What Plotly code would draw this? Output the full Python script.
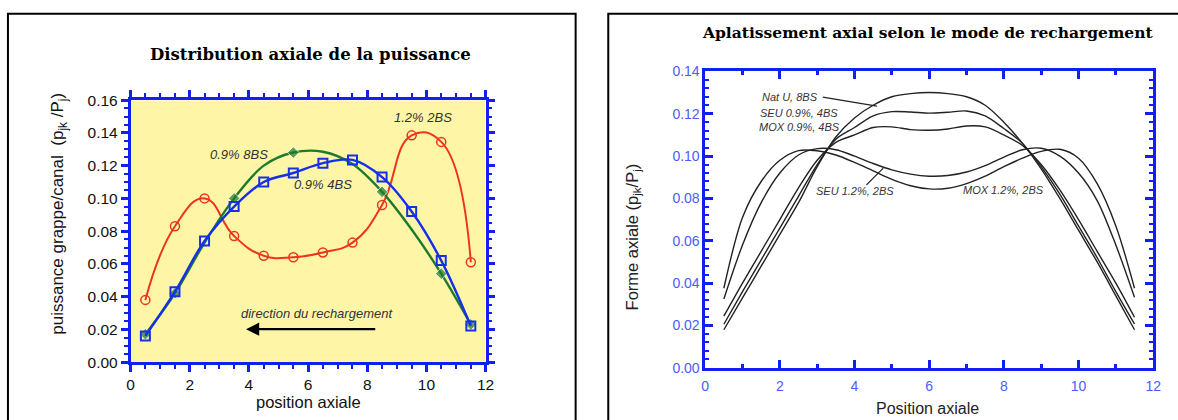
import plotly.graph_objects as go

W, H = 1178, 420

# ---------------- Left chart data ----------------
pos_left = [0.5, 1.5, 2.5, 3.5, 4.5, 5.5, 6.5, 7.5, 8.5, 9.5, 10.5, 11.5]
red_12_2bs = [0.038, 0.083, 0.100, 0.077, 0.065, 0.064, 0.067, 0.073, 0.096, 0.1385, 0.1345, 0.061]
green_09_8bs = [0.017, 0.042, 0.073, 0.100, 0.120, 0.128, 0.1285, 0.121, 0.104, 0.081, 0.054, 0.023]
blue_09_4bs = [0.016, 0.043, 0.074, 0.095, 0.110, 0.1155, 0.1215, 0.1235, 0.113, 0.092, 0.062, 0.022]
green_marker_shown = [1, 1, 0, 1, 0, 1, 0, 0, 1, 0, 1, 1]

# ---------------- Right chart data ----------------
pos_right = [0.5, 1.0, 1.5, 2.0, 2.5, 3.0, 3.5, 4.0, 4.5, 5.0, 5.5, 6.0,
             6.5, 7.0, 7.5, 8.0, 8.5, 9.0, 9.5, 10.0, 10.5, 11.0, 11.5]
natu_8bs = [0.018, 0.033, 0.048, 0.063, 0.078, 0.095, 0.109, 0.118, 0.124, 0.128, 0.1295, 0.130,
            0.1295, 0.128, 0.124, 0.116, 0.106, 0.094, 0.080, 0.065, 0.050, 0.034, 0.018]
seu09_4bs = [0.0206, 0.036, 0.051, 0.066, 0.081, 0.096, 0.108, 0.1135, 0.119, 0.121, 0.1208, 0.1203,
             0.1207, 0.1213, 0.119, 0.113, 0.106, 0.095, 0.082, 0.067, 0.052, 0.036, 0.0207]
mox09_4bs = [0.0244, 0.040, 0.055, 0.070, 0.085, 0.098, 0.1065, 0.110, 0.1135, 0.1138, 0.1125, 0.1122,
             0.1128, 0.1142, 0.1138, 0.110, 0.105, 0.096, 0.084, 0.070, 0.055, 0.040, 0.0239]
mox12_2bs = [0.0376, 0.071, 0.088, 0.098, 0.1026, 0.1025, 0.1005, 0.097, 0.093, 0.089, 0.086, 0.0845,
             0.0848, 0.087, 0.0905, 0.095, 0.099, 0.1022, 0.1032, 0.099, 0.087, 0.067, 0.0376]
seu12_2bs = [0.0325, 0.058, 0.078, 0.092, 0.1005, 0.1035, 0.1030, 0.100, 0.0965, 0.0935, 0.0915, 0.0905,
             0.0908, 0.0925, 0.0955, 0.0995, 0.1030, 0.1037, 0.100, 0.092, 0.079, 0.058, 0.0333]

# ---------------- Layout geometry (pixels) ----------------
L_x0, L_x1, L_y0, L_y1 = 128, 487, 95, 368   # left plot area (left, right, top, bottom)
R_x0, R_x1, R_y0, R_y1 = 709, 1162, 65, 374  # right plot area

def px(x):
    return x / W

def py(y):
    return 1 - y / H

RED = "#EE3322"
GREEN = "#1E7B2E"
BLUE = "#1530E8"
AXBLUE = "#1020F0"
LBLUE = "#4A5CFF"

fig = go.Figure()

# Left traces
fig.add_trace(go.Scatter(x=pos_left, y=red_12_2bs, mode="lines+markers", xaxis="x", yaxis="y",
                         line=dict(color=RED, width=2, shape="spline", smoothing=1.3),
                         marker=dict(symbol="circle-open", size=9, color=RED, line=dict(width=1.5)),
                         showlegend=False))
fig.add_trace(go.Scatter(x=pos_left, y=green_09_8bs, mode="lines+markers", xaxis="x", yaxis="y",
                         line=dict(color=GREEN, width=2.4, shape="spline", smoothing=1.0),
                         marker=dict(symbol="diamond", size=[9 * s for s in green_marker_shown], color=GREEN),
                         showlegend=False))
fig.add_trace(go.Scatter(x=pos_left, y=blue_09_4bs, mode="lines+markers", xaxis="x", yaxis="y",
                         line=dict(color=BLUE, width=2.4, shape="spline", smoothing=1.0),
                         marker=dict(symbol="square-open", size=9, color=BLUE, line=dict(width=2)),
                         showlegend=False))

# Right traces
for series in [natu_8bs, seu09_4bs, mox09_4bs, mox12_2bs, seu12_2bs]:
    fig.add_trace(go.Scatter(x=pos_right, y=series, mode="lines", xaxis="x2", yaxis="y2",
                             line=dict(color="#222222", width=1.4, shape="spline", smoothing=0.9),
                             showlegend=False))

tickfont_left = dict(family="Liberation Sans, Arial", size=15.5, color="#111111")
tickfont_right = dict(family="Liberation Sans, Arial", size=14, color=LBLUE)

common_left = dict(showline=True, linecolor=AXBLUE, linewidth=2.5, mirror="allticks",
                   ticks="outside", tickcolor=AXBLUE, tickwidth=2.5, ticklen=7,
                   showgrid=False, zeroline=False, tickfont=tickfont_left)
common_right = dict(showline=True, linecolor=AXBLUE, linewidth=2.5, mirror="allticks",
                    ticks="inside", tickcolor=AXBLUE, tickwidth=2.5, ticklen=8,
                    showgrid=False, zeroline=False, tickfont=tickfont_right)

fig.update_layout(
    width=W, height=H, margin=dict(l=0, r=0, t=0, b=0),
    paper_bgcolor="white", plot_bgcolor="rgba(0,0,0,0)",
    xaxis=dict(domain=[px(L_x0), px(L_x1)], range=[0, 12], dtick=2, tick0=0,
               minor=dict(dtick=0.5, ticks="outside", ticklen=4, tickcolor=AXBLUE, tickwidth=2),
               anchor="y", **common_left),
    yaxis=dict(domain=[py(L_y1), py(L_y0)], range=[0, 0.16], dtick=0.02, tick0=0, tickformat=".2f",
               minor=dict(dtick=0.005, ticks="outside", ticklen=4, tickcolor=AXBLUE, tickwidth=2),
               anchor="x", **common_left),
    xaxis2=dict(domain=[px(R_x0), px(R_x1)], range=[0, 12], dtick=2, tick0=0,
                minor=dict(dtick=1, ticks="inside", ticklen=4, tickcolor=AXBLUE, tickwidth=2.5),
                anchor="y2", ticklabelstandoff=4, **common_right),
    yaxis2=dict(domain=[py(R_y1), py(R_y0)], range=[0, 0.14], dtick=0.02, tick0=0, tickformat=".2f",
                minor=dict(dtick=0.004, ticks="inside", ticklen=4, tickcolor=AXBLUE, tickwidth=2),
                anchor="x2", **common_right),
)

shapes = [
    # yellow background of left plot
    dict(type="rect", xref="x", yref="y", x0=0, x1=12, y0=0, y1=0.16,
         fillcolor="#FEF6A6", line=dict(width=0), layer="below"),
    # frames
    dict(type="rect", xref="paper", yref="paper", x0=px(4), x1=px(578), y0=py(440), y1=py(5),
         line=dict(color="black", width=2), fillcolor="rgba(0,0,0,0)", layer="below"),
    dict(type="rect", xref="paper", yref="paper", x0=px(611), x1=px(1200), y0=py(440), y1=py(5),
         line=dict(color="black", width=2), fillcolor="rgba(0,0,0,0)", layer="below"),
    # pointer lines on right chart
    dict(type="line", xref="x2", yref="y2", x0=3.15, y0=0.1278, x1=4.6, y1=0.1236,
         line=dict(color="#222222", width=1.3)),
    dict(type="line", xref="x2", yref="y2", x0=4.32, y0=0.0864, x1=4.77, y1=0.0943,
         line=dict(color="#222222", width=1.3)),
]
fig.update_layout(shapes=shapes)

ann = []
it_left = dict(family="Liberation Sans, Arial", size=13, color="#333333")
it_right = dict(family="Liberation Sans, Arial", size=11, color="#333333")

def label(text, x, y, xref, yref, font):
    ann.append(dict(text="<i>" + text + "</i>", x=x, y=y, xref=xref, yref=yref,
                    showarrow=False, font=font, xanchor="center", yanchor="middle"))

label("1.2% 2BS", 9.9, 0.1497, "x", "y", it_left)
label("0.9% 8BS", 3.65, 0.127, "x", "y", it_left)
label("0.9% 4BS", 6.5, 0.1087, "x", "y", it_left)
label("direction du rechargement", 6.29, 0.0298, "x", "y", it_left)

label("Nat U, 8BS", 2.26, 0.1279, "x2", "y2", it_right)
label("SEU 0.9%, 4BS", 2.52, 0.1204, "x2", "y2", it_right)
label("MOX 0.9%, 4BS", 2.52, 0.1138, "x2", "y2", it_right)
label("SEU 1.2%, 2BS", 4.01, 0.0836, "x2", "y2", it_right)
label("MOX 1.2%, 2BS", 7.98, 0.0841, "x2", "y2", it_right)

# arrow "direction du rechargement"
ann.append(dict(x=3.9, y=0.0201, ax=8.32, ay=0.0201, xref="x", yref="y", axref="x", ayref="y",
                text="", showarrow=True, arrowhead=2, arrowsize=1.2, arrowwidth=2.2, arrowcolor="black"))

def ptext(text, x, y, font, angle=0):
    ann.append(dict(text=text, x=px(x), y=py(y), xref="paper", yref="paper", showarrow=False,
                    xanchor="center", yanchor="middle", textangle=angle, font=font))

# titles
ptext("<b>Distribution axiale de la puissance</b>", 310, 47,
      dict(family="DejaVu Serif", size=16.5, color="black"))
ptext("<b>Aplatissement axial selon le mode de rechargement</b>", 934, 24,
      dict(family="DejaVu Serif", size=15.5, color="black"))

# axis titles
ptext("puissance grappe/canal  (p<sub>jk</sub> /P<sub>j</sub>)", 56, 213,
      dict(family="Liberation Sans, Arial", size=17, color="#111111"), -90)
ptext("position axiale", 308, 410,
      dict(family="Liberation Sans, Arial", size=16.5, color="#111111"))
ptext("Forme axiale (p<sub>jk</sub>/P<sub>j</sub>)", 636, 237,
      dict(family="Liberation Sans, Arial", size=16.5, color="#222222"), -90)
ptext("Position axiale", 934, 416,
      dict(family="Liberation Sans, Arial", size=16, color="#222222"))

fig.update_layout(annotations=ann)

fig.write_html("out.html")
